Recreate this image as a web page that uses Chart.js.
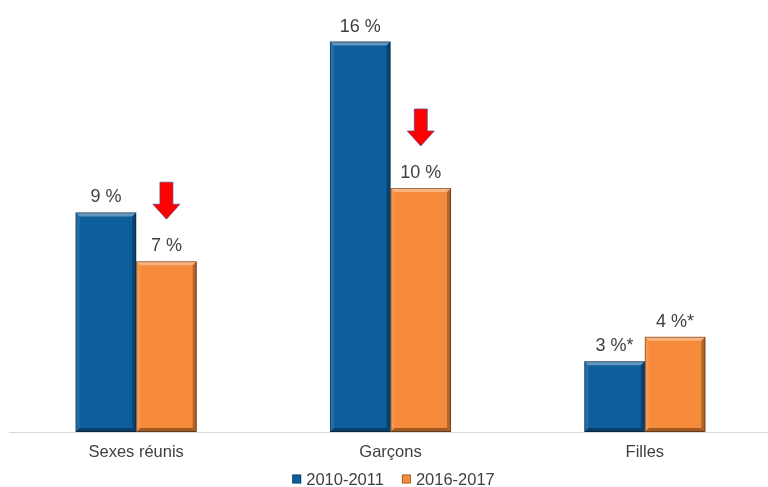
<!DOCTYPE html>
<html>
<head>
<meta charset="utf-8">
<script src="https://cdn.jsdelivr.net/npm/chart.js@4"></script>
<style>
html,body{margin:0;padding:0;background:#fff;overflow:hidden;}
#wrap{width:772px;height:487px;position:relative;}
</style>
</head>
<body>
<div id="wrap"><canvas id="c"></canvas></div>
<script>
const categories = ['Sexes réunis', 'Garçons', 'Filles'];
const seriesNames = ['2010-2011', '2016-2017'];
const values2010 = [9, 16, 2.9];
const values2016 = [7, 10, 3.9];
const labels2010 = ['9 %', '16 %', '3 %*'];
const labels2016 = ['7 %', '10 %', '4 %*'];
const decreaseArrows = [true, true, false];

const BLUE = '#0F5E9C';
const ORANGE = '#F68B3B';
const FONT = '"Liberation Sans", Arial, sans-serif';

const bevelPlugin = {
  id: 'bevel',
  afterDatasetsDraw(chart) {
    const ctx = chart.ctx;
    chart.data.datasets.forEach((ds, di) => {
      const meta = chart.getDatasetMeta(di);
      meta.data.forEach(bar => {
        const l = bar.x - bar.width / 2, r = bar.x + bar.width / 2;
        const t = bar.y, bt = bar.base;
        const b = 4;
        const poly = (pts, fill) => {
          ctx.beginPath();
          ctx.moveTo(pts[0][0], pts[0][1]);
          for (let i = 1; i < pts.length; i++) ctx.lineTo(pts[i][0], pts[i][1]);
          ctx.closePath();
          ctx.fillStyle = fill;
          ctx.fill();
        };
        ctx.save();
        poly([[l, t], [r, t], [r - b, t + b], [l + b, t + b]], 'rgba(255,255,255,0.35)');
        poly([[l, t], [l + b, t + b], [l + b, bt - b], [l, bt]], 'rgba(255,255,255,0.10)');
        poly([[r, t], [r - b, t + b], [r - b, bt - b], [r, bt]], 'rgba(0,0,0,0.28)');
        poly([[l, bt], [l + b, bt - b], [r - b, bt - b], [r, bt]], 'rgba(0,0,0,0.35)');
        ctx.strokeStyle = 'rgba(0,0,0,0.35)';
        ctx.lineWidth = 1;
        ctx.strokeRect(l + 0.5, t + 0.5, r - l - 1, bt - t - 1);
        ctx.restore();
      });
    });
  }
};

const valueLabelPlugin = {
  id: 'valueLabels',
  afterDatasetsDraw(chart) {
    const ctx = chart.ctx;
    const texts = [labels2010, labels2016];
    ctx.save();
    ctx.font = '18px ' + FONT;
    ctx.fillStyle = '#404040';
    ctx.textAlign = 'center';
    ctx.textBaseline = 'bottom';
    chart.data.datasets.forEach((ds, di) => {
      const meta = chart.getDatasetMeta(di);
      meta.data.forEach((bar, i) => {
        ctx.fillText(texts[di][i], bar.x, bar.y - 6);
      });
    });
    ctx.restore();
  }
};

const arrowPlugin = {
  id: 'arrows',
  afterDatasetsDraw(chart) {
    const ctx = chart.ctx;
    const meta = chart.getDatasetMeta(1);
    meta.data.forEach((bar, i) => {
      if (!decreaseArrows[i]) return;
      const cx = bar.x;
      const tip = bar.y - 42;
      const shaftW = 13, headW = 27, headH = 15, total = 37;
      const top = tip - total;
      const hs = tip - headH;
      ctx.save();
      ctx.beginPath();
      ctx.moveTo(cx - shaftW / 2, top);
      ctx.lineTo(cx + shaftW / 2, top);
      ctx.lineTo(cx + shaftW / 2, hs);
      ctx.lineTo(cx + headW / 2, hs);
      ctx.lineTo(cx, tip);
      ctx.lineTo(cx - headW / 2, hs);
      ctx.lineTo(cx - shaftW / 2, hs);
      ctx.closePath();
      ctx.fillStyle = '#FF0000';
      ctx.fill();
      ctx.strokeStyle = 'rgba(90,70,130,0.7)';
      ctx.lineWidth = 1;
      ctx.stroke();
      ctx.restore();
    });
  }
};

const legendPlugin = {
  id: 'customLegend',
  afterDraw(chart) {
    const ctx = chart.ctx;
    const colors = [BLUE, ORANGE];
    const box = 9, gapText = 5, gapItem = 18;
    ctx.save();
    ctx.font = '16.5px ' + FONT;
    const widths = seriesNames.map(s => ctx.measureText(s).width);
    let total = 0;
    widths.forEach((w, i) => { total += box + gapText + w + (i < widths.length - 1 ? gapItem : 0); });
    const area = chart.chartArea;
    let x = (area.left + area.right) / 2 - total / 2 + 3;
    const y = chart.scales.x.bottom + 13;
    ctx.textBaseline = 'middle';
    ctx.textAlign = 'left';
    seriesNames.forEach((s, i) => {
      ctx.fillStyle = colors[i];
      ctx.fillRect(x, y - box / 2, box, box);
      ctx.strokeStyle = 'rgba(0,0,0,0.3)';
      ctx.lineWidth = 1;
      ctx.strokeRect(x + 0.5, y - box / 2 + 0.5, box - 1, box - 1);
      x += box + gapText;
      ctx.fillStyle = '#404040';
      ctx.fillText(s, x, y + 1);
      x += widths[i] + gapItem;
    });
    ctx.restore();
  }
};

new Chart(document.getElementById('c'), {
  type: 'bar',
  data: {
    labels: categories,
    datasets: [
      { label: seriesNames[0], data: values2010, backgroundColor: BLUE, borderWidth: 0,
        categoryPercentage: 0.476, barPercentage: 1 },
      { label: seriesNames[1], data: values2016, backgroundColor: ORANGE, borderWidth: 0,
        categoryPercentage: 0.476, barPercentage: 1 }
    ]
  },
  options: {
    responsive: true,
    maintainAspectRatio: false,
    animation: false,
    devicePixelRatio: 1,
    layout: { padding: { left: 9, right: 0, top: 5, bottom: 21 } },
    plugins: {
      legend: { display: false },
      tooltip: { enabled: false }
    },
    scales: {
      x: {
        grid: { display: false, drawTicks: false },
        border: { display: true, color: '#D9D9D9', width: 1 },
        ticks: {
          color: '#404040', padding: 11,
          font: { family: FONT, size: 16.5 }
        },
        afterFit(scale) { scale.height = 34; }
      },
      y: {
        display: false,
        min: 0, max: 17.5
      }
    }
  },
  plugins: [bevelPlugin, valueLabelPlugin, arrowPlugin, legendPlugin]
});
</script>
</body>
</html>
